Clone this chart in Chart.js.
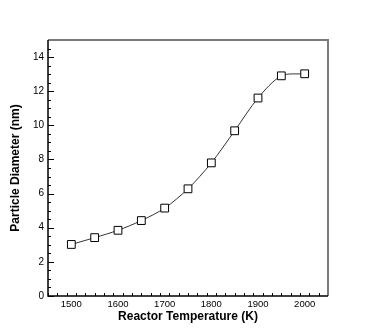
<!DOCTYPE html>
<html><head><meta charset="utf-8">
<script src="https://cdn.jsdelivr.net/npm/chart.js@4/dist/chart.umd.min.js"></script>
<style>html,body{margin:0;padding:0;background:#fff}#wrap{width:374px;height:332px}</style>
</head><body><div id="wrap"><canvas id="c" width="374" height="332"></canvas></div>
<script>
const temperatures = [1500, 1550, 1600, 1650, 1700, 1750, 1800, 1850, 1900, 1950, 2000];
const diameters = [3.02, 3.42, 3.85, 4.42, 5.15, 6.28, 7.8, 9.68, 11.6, 12.9, 13.02];
const xTickLabels = [1500, 1600, 1700, 1800, 1900, 2000];
const yTickLabels = [0, 2, 4, 6, 8, 10, 12, 14];
const xMinorStep = 20;
const yMinorStep = 0.5;

const frame = {
  id: 'frame',
  afterDatasetsDraw(chart) {
    const ctx = chart.ctx, a = chart.chartArea, xs = chart.scales.x, ys = chart.scales.y;
    ctx.save();
    ctx.strokeStyle = '#000'; ctx.lineWidth = 1;
    ctx.beginPath();
    for (let v = xs.min; v <= xs.max + 1e-6; v += xMinorStep) {
      const px = Math.round(xs.getPixelForValue(v)) + 0.5;
      const major = Math.abs(v % 100) < 1e-6;
      ctx.moveTo(px, a.bottom); ctx.lineTo(px, a.bottom - (major ? 6 : 3));
    }
    for (let v = ys.min; v <= ys.max + 1e-6; v += yMinorStep) {
      const py = Math.round(ys.getPixelForValue(v)) + 0.5;
      const major = Math.abs(v % 2) < 1e-6;
      ctx.moveTo(a.left, py); ctx.lineTo(a.left + (major ? 6 : 3), py);
    }
    ctx.stroke();
    ctx.strokeStyle = '#7a7a7a'; ctx.lineWidth = 2;
    ctx.beginPath();
    ctx.moveTo(a.left, a.top); ctx.lineTo(a.right, a.top); ctx.lineTo(a.right, a.bottom);
    ctx.stroke();
    ctx.strokeStyle = '#000'; ctx.lineWidth = 1.5;
    ctx.beginPath();
    ctx.moveTo(a.left, a.top); ctx.lineTo(a.left, a.bottom); ctx.lineTo(a.right, a.bottom);
    ctx.stroke();
    ctx.restore();
  }
};

new Chart(document.getElementById('c'), {
  type: 'line',
  data: {
    datasets: [{
      data: temperatures.map((t, i) => ({x: t, y: diameters[i]})),
      borderColor: '#333',
      borderWidth: 1,
      pointStyle: 'rect',
      pointRadius: 5.5,
      pointBorderColor: '#000',
      pointBorderWidth: 1,
      pointBackgroundColor: '#fff',
      tension: 0.3,
      fill: false
    }]
  },
  options: {
    responsive: false,
    animation: false,
    events: [],
    layout: {padding: {top: 40, right: 46, left: 8, bottom: 8}},
    plugins: {legend: {display: false}, tooltip: {enabled: false}},
    scales: {
      x: {
        type: 'linear', min: 1450, max: 2050,
        afterBuildTicks: s => { s.ticks = xTickLabels.map(v => ({value: v})); },
        afterFit: s => { s.height = 28; },
        grid: {display: false, drawTicks: false},
        border: {display: false},
        ticks: {color: '#000', font: {family: 'Liberation Sans', size: 9.5}, padding: 3, maxRotation: 0, callback: v => String(v)},
        title: {display: true, text: 'Reactor Temperature (K)', color: '#000', font: {family: 'Liberation Sans', size: 12, weight: 'bold'}, padding: {top: 0, bottom: 0}}
      },
      y: {
        type: 'linear', min: 0, max: 15,
        afterBuildTicks: s => { s.ticks = yTickLabels.map(v => ({value: v})); },
        afterFit: s => { s.width = 40; },
        grid: {display: false, drawTicks: false},
        border: {display: false},
        ticks: {color: '#000', font: {family: 'Liberation Sans', size: 10}, padding: 4, callback: v => String(v)},
        title: {display: true, text: 'Particle Diameter (nm)', color: '#000', font: {family: 'Liberation Sans', size: 12, weight: 'bold'}, padding: {top: 0, bottom: 0}}
      }
    }
  },
  plugins: [frame]
});
</script></body></html>
